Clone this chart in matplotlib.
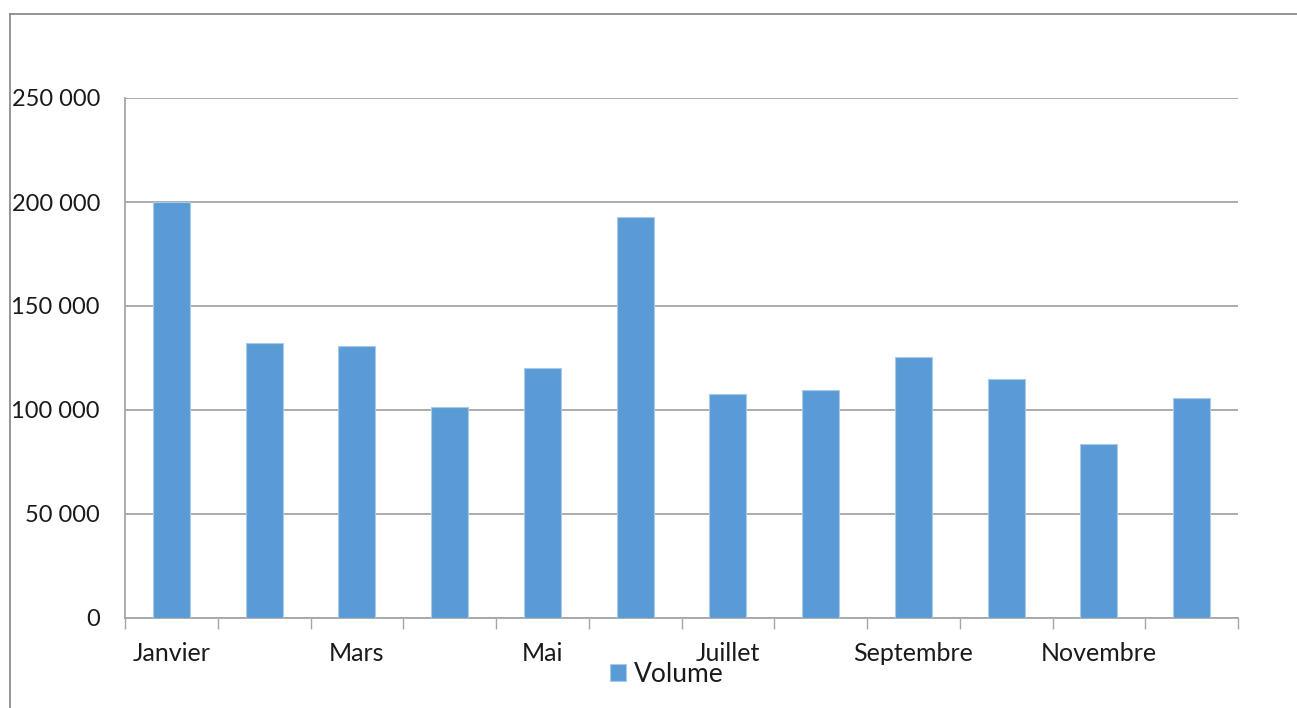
import matplotlib.pyplot as plt
from matplotlib.lines import Line2D
from matplotlib.ticker import FuncFormatter

# Données
mois = ["Janvier", "Février", "Mars", "Avril", "Mai", "Juin", "Juillet",
        "Août", "Septembre", "Octobre", "Novembre", "Décembre"]
volume = [200000, 132100, 131000, 101300, 120400, 192600, 107600,
          109500, 125400, 114800, 83500, 105600]
yticks = [0, 50000, 100000, 150000, 200000, 250000]

plt.rcParams["font.family"] = ["Lato", "DejaVu Sans"]

fig = plt.figure(figsize=(12.97, 7.08), dpi=100)
ax = fig.add_axes([125 / 1297, 90 / 708, 1113 / 1297, 520 / 708])

x = list(range(len(mois)))
ax.bar(x, volume, width=0.4, color="#5B9BD5", edgecolor="#A9CBEA",
       linewidth=0.8, label="Volume", zorder=3)

ax.set_xlim(-0.5, len(mois) - 0.5)
ax.set_ylim(0, 250000)
ax.set_yticks(yticks)
ax.yaxis.set_major_formatter(FuncFormatter(lambda v, p: f"{v:,.0f}".replace(",", " ")))
ax.tick_params(axis="y", length=0, pad=18, labelsize=17, labelcolor="#1a1a1a")
ax.grid(axis="y", color="#A6A6A6", linewidth=1.3, zorder=0)

# ticks entre les catégories, étiquettes un mois sur deux
ax.set_xticks([i - 0.5 for i in range(len(mois) + 1)])
ax.set_xticklabels([])
ax.tick_params(axis="x", which="major", length=8, width=1, color="#A6A6A6", direction="out")
ax.set_xticks(x[::2], minor=True)
ax.set_xticklabels(mois[::2], minor=True)
ax.tick_params(axis="x", which="minor", length=0, pad=17, labelsize=18, labelcolor="#1a1a1a")

for s in ["top", "right"]:
    ax.spines[s].set_visible(False)
for s in ["left", "bottom"]:
    ax.spines[s].set_color("#A6A6A6")
    ax.spines[s].set_linewidth(1.3)

fig.legend(loc="center", bbox_to_anchor=(0.514, 34 / 708), frameon=False,
           fontsize=19, handlelength=0.6, handleheight=0.6, handletextpad=0.3,
           labelcolor="#1a1a1a")

# cadre du graphique
x0, y0 = 10 / 1297, 1 - 14 / 708
fig.add_artist(Line2D([x0, 1], [y0, y0], color="#8C8C8C", linewidth=1.3))
fig.add_artist(Line2D([x0, x0], [0, y0], color="#8C8C8C", linewidth=1.3))

fig.savefig("out.png", dpi=100)
